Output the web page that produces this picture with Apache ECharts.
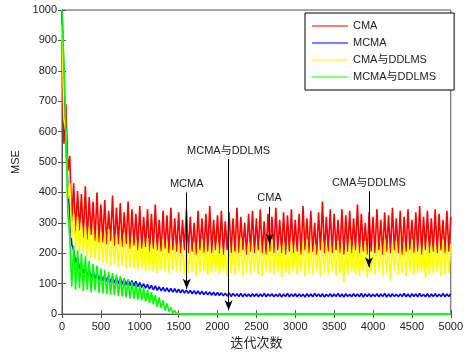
<!DOCTYPE html>
<html>
<head>
<meta charset="utf-8">
<script src="https://cdn.jsdelivr.net/npm/echarts@6/dist/echarts.min.js"></script>
<style>
  html, body { margin: 0; padding: 0; background: #fff; }
  #chart { width: 466px; height: 355px; }
</style>
</head>
<body>
<div id="chart"></div>
<script>
// 迭代步长（每 25 次取一个点）
var step = 25
var seriesNames = ['CMA', 'MCMA', 'CMA与DDLMS', 'MCMA与DDLMS']
var seriesColors = ['#ff0000', '#0000ff', '#ffff00', '#00ff00']

// CMA
var cma = [
  900, 560, 690, 470, 520, 300, 430, 265, 405, 275, 395, 250, 420, 245, 385, 260, 370, 240, 400, 235,
  360, 235, 375, 230, 340, 240, 390, 225, 350, 230, 365, 220, 335, 230, 370, 215, 345, 225, 330, 210,
  355, 215, 320, 220, 345, 205, 330, 215, 360, 210, 310, 205, 340, 215, 325, 200, 350, 210, 315, 205,
  335, 200, 310, 210, 345, 200, 320, 205, 300, 195, 340, 210, 315, 200, 330, 205, 355, 200, 310, 210,
  325, 200, 340, 195, 305, 210, 335, 200, 315, 205, 350, 200, 320, 210, 300, 195, 330, 205, 340, 200,
  315, 210, 345, 200, 305, 195, 330, 205, 320, 200, 350, 210, 310, 200, 335, 195, 325, 205, 345, 200,
  310, 205, 330, 195, 355, 210, 315, 200, 340, 205, 300, 195, 335, 210, 370, 200, 320, 205, 345, 200,
  330, 210, 310, 200, 345, 195, 325, 205, 340, 200, 315, 210, 360, 200, 330, 205, 300, 195, 335, 205,
  320, 200, 345, 210, 310, 195, 335, 205, 325, 200, 350, 210, 315, 200, 340, 195, 320, 205, 345, 210,
  310, 200, 335, 205, 355, 195, 320, 210, 340, 200, 315, 205, 345, 200, 330, 210, 310, 200, 340, 205, 320
]
// MCMA
var mcma = [
  1000, 780, 560, 420, 330, 230, 210, 170, 185, 150, 165, 135, 155, 125, 145, 120, 140, 115, 135, 112,
  130, 110, 128, 108, 125, 105, 124, 102, 120, 100, 118, 98, 115, 96, 113, 94, 110, 92, 108, 90,
  104, 88, 100, 85, 98, 82, 95, 80, 93, 78, 90, 76, 88, 75, 86, 73, 85, 72, 84, 71,
  82, 70, 80, 69, 79, 68, 78, 67, 77, 66, 76, 65, 75, 64, 74, 63, 73, 62, 72, 61,
  71, 61, 70, 60, 69, 59, 70, 58, 68, 59, 67, 58, 68, 57, 67, 58, 66, 57, 67, 58,
  67, 57, 66, 58, 68, 57, 66, 59, 67, 57, 65, 58, 67, 56, 66, 58, 68, 57, 66, 58,
  67, 57, 66, 58, 65, 56, 67, 58, 66, 57, 68, 58, 66, 57, 67, 56, 65, 58, 67, 57,
  66, 58, 68, 57, 66, 56, 67, 58, 65, 57, 67, 58, 66, 57, 68, 56, 66, 58, 67, 57,
  65, 58, 67, 57, 66, 58, 68, 56, 66, 57, 67, 58, 65, 57, 66, 58, 68, 57, 66, 56,
  67, 58, 66, 57, 68, 58, 65, 57, 67, 56, 66, 58, 67, 57, 65, 58, 68, 57, 66, 58, 67
]
// CMA与DDLMS
var cmaDdlms = [
  950, 640, 600, 380, 430, 250, 330, 215, 320, 205, 300, 200, 290, 190, 285, 185, 280, 180, 275, 175,
  270, 170, 265, 165, 280, 160, 255, 165, 260, 155, 250, 160, 265, 150, 245, 155, 255, 150, 240, 145,
  245, 150, 235, 140, 250, 145, 230, 140, 240, 135, 225, 145, 245, 140, 230, 135, 235, 145, 225, 140,
  230, 140, 220, 130, 240, 135, 215, 140, 235, 125, 225, 135, 245, 140, 220, 130, 230, 135, 215, 140,
  235, 130, 225, 140, 210, 125, 240, 135, 220, 130, 230, 140, 250, 125, 215, 135, 235, 130, 225, 140,
  220, 130, 240, 125, 215, 140, 230, 135, 245, 130, 220, 140, 225, 120, 235, 135, 210, 130, 240, 140,
  225, 130, 215, 140, 235, 125, 245, 135, 220, 130, 230, 140, 215, 125, 240, 135, 225, 130, 235, 140,
  220, 125, 240, 135, 230, 105, 215, 130, 245, 140, 225, 130, 235, 125, 220, 140, 240, 120, 230, 135,
  215, 130, 235, 140, 225, 125, 245, 135, 220, 110, 230, 140, 240, 130, 215, 135, 235, 125, 225, 140,
  245, 130, 220, 135, 230, 140, 215, 120, 240, 130, 225, 135, 235, 140, 220, 125, 245, 130, 225, 135, 230
]
// MCMA与DDLMS
var mcmaDdlms = [
  1000, 820, 600, 330, 250, 90, 225, 80, 210, 85, 200, 75, 190, 80, 175, 72, 165, 78, 160, 70,
  150, 68, 145, 66, 140, 64, 135, 62, 130, 60, 125, 58, 118, 55, 112, 52, 106, 50, 100, 47,
  95, 45, 88, 42, 80, 36, 72, 32, 62, 24, 55, 20, 45, 12, 35, 8, 22, 4, 12, 2,
  3, 0, 1, 0, 0, 0, 0, 0, 0, 0, 0, 0, 0, 0, 0, 0, 0, 0, 0, 0,
  0, 0, 0, 0, 0, 0, 0, 0, 0, 0, 0, 0, 0, 0, 0, 0, 0, 0, 0, 0,
  0, 0, 0, 0, 0, 0, 0, 0, 0, 0, 0, 0, 0, 0, 0, 0, 0, 0, 0, 0,
  0, 0, 0, 0, 0, 0, 0, 0, 0, 0, 0, 0, 0, 0, 0, 0, 0, 0, 0, 0,
  0, 0, 0, 0, 0, 0, 0, 0, 0, 0, 0, 0, 0, 0, 0, 0, 0, 0, 0, 0,
  0, 0, 0, 0, 0, 0, 0, 0, 0, 0, 0, 0, 0, 0, 0, 0, 0, 0, 0, 0,
  0, 0, 0, 0, 0, 0, 0, 0, 0, 0, 0, 0, 0, 0, 0, 0, 0, 0, 0, 0, 0
]
var seriesValues = [cma, mcma, cmaDdlms, mcmaDdlms]

// 标注：[文字, 迭代次数, 箭头起点, 箭头终点]
var notes = [
  ['MCMA与DDLMS', 2143, 510, 13],
  ['MCMA', 1604, 400, 83],
  ['CMA', 2669, 353, 231],
  ['CMA与DDLMS', 3947, 404, 154]
]

var font = '"Liberation Sans", Arial, "Noto Sans CJK SC", sans-serif'

var myChart = echarts.init(document.getElementById('chart'))

var axisLine = { show: true, lineStyle: { color: '#555', width: 1 } }
var tick = { show: true, inside: true, length: 4, lineStyle: { color: '#555' } }
var plain = function (v) { return String(v) }

var series = seriesNames.map(function (name, k) {
  var vals = seriesValues[k]
  return {
    name: name,
    type: 'line',
    symbol: 'none',
    silent: true,
    lineStyle: { color: seriesColors[k], width: 1.6 },
    itemStyle: { color: seriesColors[k] },
    data: vals.map(function (v, i) { return [i * step, v] })
  }
})

// 箭头标注挂在最后一条曲线上
series[3].markLine = {
  silent: true,
  animation: false,
  symbol: ['none', 'arrow'],
  symbolSize: [6, 10],
  lineStyle: { color: '#000', width: 1, type: 'solid' },
  label: {
    show: true,
    position: 'start',
    formatter: '{b}',
    color: '#222',
    fontSize: 11,
    fontFamily: font,
    distance: 3
  },
  data: notes.map(function (n) {
    return [
      { name: n[0], coord: [n[1], n[2]] },
      { coord: [n[1], n[3]] }
    ]
  })
}

var option = {
  backgroundColor: '#fff',
  animation: false,
  textStyle: { fontFamily: font },
  grid: { left: 62, right: 5, top: 10, bottom: 33, show: true, borderColor: '#555', borderWidth: 1 },
  legend: {
    data: seriesNames,
    orient: 'vertical',
    left: 305,
    top: 13,
    icon: 'rect',
    itemWidth: 36,
    itemHeight: 1,
    itemGap: 3,
    padding: [6, 18, 6, 7],
    borderColor: '#000',
    borderWidth: 1,
    backgroundColor: '#fff',
    textStyle: { fontSize: 11, color: '#222', fontFamily: font, lineHeight: 14 }
  },
  xAxis: [
    {
      type: 'value',
      min: 0,
      max: 5000,
      interval: 500,
      name: '迭代次数',
      nameLocation: 'middle',
      nameGap: 20,
      nameTextStyle: { fontSize: 13, color: '#222' },
      axisLine: axisLine,
      axisTick: tick,
      splitLine: { show: false },
      axisLabel: { fontSize: 11, color: '#222', margin: 7, formatter: plain }
    },
    {
      type: 'value',
      position: 'top',
      min: 0,
      max: 5000,
      interval: 500,
      axisLine: axisLine,
      axisTick: tick,
      splitLine: { show: false },
      axisLabel: { show: false }
    }
  ],
  yAxis: [
    {
      type: 'value',
      min: 0,
      max: 1000,
      interval: 100,
      name: 'MSE',
      nameLocation: 'middle',
      nameGap: 36,
      nameTextStyle: { fontSize: 11, color: '#222' },
      axisLine: axisLine,
      axisTick: tick,
      splitLine: { show: false },
      axisLabel: { fontSize: 11, color: '#222', margin: 5, formatter: plain }
    },
    {
      type: 'value',
      position: 'right',
      min: 0,
      max: 1000,
      interval: 100,
      axisLine: axisLine,
      axisTick: tick,
      splitLine: { show: false },
      axisLabel: { show: false }
    }
  ],
  series: series
}

myChart.setOption(option)
</script>
</body>
</html>
